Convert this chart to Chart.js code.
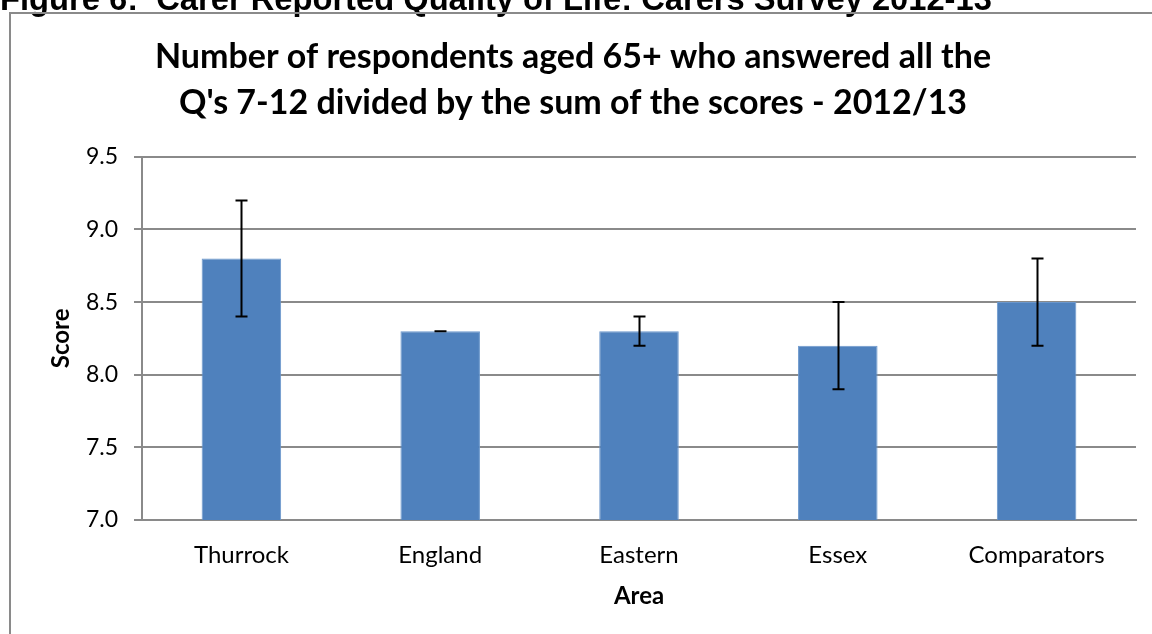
<!DOCTYPE html>
<html>
<head>
<meta charset="utf-8">
<script src="https://cdn.jsdelivr.net/npm/chart.js@4.4.0/dist/chart.umd.min.js"></script>
<style>
    html, body { margin: 0; padding: 0; background: #fff; }
    #wrap { width: 1152px; height: 634px; position: relative; }
</style>
</head>
<body>
<div id="wrap"><canvas id="score-chart" width="1152" height="634"></canvas></div>
<script>
const areas = ['Thurrock', 'England', 'Eastern', 'Essex', 'Comparators'];
const scores = [8.8, 8.3, 8.3, 8.2, 8.5];
const errLow = [8.4, 8.3, 8.2, 7.9, 8.2];
const errHigh = [9.2, 8.3, 8.4, 8.5, 8.8];
const yTicks = [7.0, 7.5, 8.0, 8.5, 9.0, 9.5];

const captionText = 'Figure 6:  Carer Reported Quality of Life: Carers Survey 2012-13';
const titleLines = ['Number of respondents aged 65+ who answered all the', "Q's 7-12 divided by the sum of the scores - 2012/13"];

const bodyFont = 'Lato';
const gridColor = '#8a8a8a';

// page caption and the chart frame, drawn behind the chart
const framePlugin = {
    id: 'frame',
    beforeDraw(chart) {
        const ctx = chart.ctx;
        ctx.save();
        ctx.fillStyle = '#fff';
        ctx.fillRect(0, 0, chart.width, chart.height);
        ctx.fillStyle = '#000';
        ctx.font = 'bold 32.7px "Liberation Sans"';
        ctx.textBaseline = 'alphabetic';
        ctx.fillText(captionText, 0, 10);
        ctx.strokeStyle = gridColor;
        ctx.lineWidth = 2;
        ctx.beginPath();
        ctx.moveTo(10, chart.height);
        ctx.lineTo(10, 13);
        ctx.lineTo(chart.width, 13);
        ctx.stroke();
        ctx.restore();
    }
};

// error bars from errLow / errHigh
const errorBarPlugin = {
    id: 'errorBars',
    afterDatasetsDraw(chart) {
        const ctx = chart.ctx;
        const meta = chart.getDatasetMeta(0);
        const y = chart.scales.y;
        ctx.save();
        ctx.strokeStyle = '#000';
        ctx.lineWidth = 2;
        meta.data.forEach((bar, i) => {
            const x = Math.round(bar.x) + 0.5;
            const top = y.getPixelForValue(errHigh[i]);
            const bottom = y.getPixelForValue(errLow[i]);
            ctx.beginPath();
            ctx.moveTo(x, top);
            ctx.lineTo(x, bottom);
            ctx.moveTo(x - 6, top);
            ctx.lineTo(x + 6, top);
            ctx.moveTo(x - 6, bottom);
            ctx.lineTo(x + 6, bottom);
            ctx.stroke();
        });
        ctx.restore();
    }
};

const ctx = document.getElementById('score-chart').getContext('2d');
const scoreChart = new Chart(ctx, {
    type: 'bar',
    data: {
        labels: areas,
        datasets: [{
            label: 'Score',
            data: scores,
            backgroundColor: '#4f81bd',
            borderColor: '#6b97cc',
            borderWidth: 1,
            barPercentage: 0.4,
            categoryPercentage: 1.0
        }]
    },
    options: {
        responsive: false,
        animation: false,
        layout: { padding: { left: 10, right: 16, top: 0, bottom: 0 } },
        plugins: {
            legend: { display: false },
            tooltip: { enabled: false },
            title: {
                display: true,
                text: titleLines,
                color: '#000',
                font: { family: bodyFont, size: 34, weight: 'bold', lineHeight: 1.35 },
                padding: { top: 34, bottom: 31 }
            }
        },
        scales: {
            x: {
                grid: { display: false },
                border: { display: true, color: gridColor, width: 2 },
                ticks: { color: '#000', font: { family: bodyFont, size: 24 }, padding: 13, maxRotation: 0 },
                title: {
                    display: true,
                    text: 'Area',
                    color: '#000',
                    font: { family: bodyFont, size: 24, weight: 'bold', lineHeight: 1.2 },
                    padding: { top: 0, bottom: 23 }
                },
                afterFit(scale) { scale.height = 114; }
            },
            y: {
                min: 7,
                max: 9.5,
                afterBuildTicks(scale) { scale.ticks = yTicks.map(v => ({ value: v })); },
                grid: { color: gridColor, lineWidth: 2, tickLength: 8, drawTicks: true },
                border: { display: true, color: gridColor, width: 2 },
                ticks: {
                    color: '#000',
                    font: { family: bodyFont, size: 23 },
                    padding: 16,
                    callback: v => v.toFixed(1)
                },
                title: {
                    display: true,
                    text: 'Score',
                    color: '#000',
                    font: { family: bodyFont, size: 24, weight: 'bold', lineHeight: 1.2 },
                    padding: { top: 37, bottom: 0 }
                },
                afterFit(scale) { scale.width = 132; }
            }
        }
    },
    plugins: [framePlugin, errorBarPlugin]
});
</script>
</body>
</html>
